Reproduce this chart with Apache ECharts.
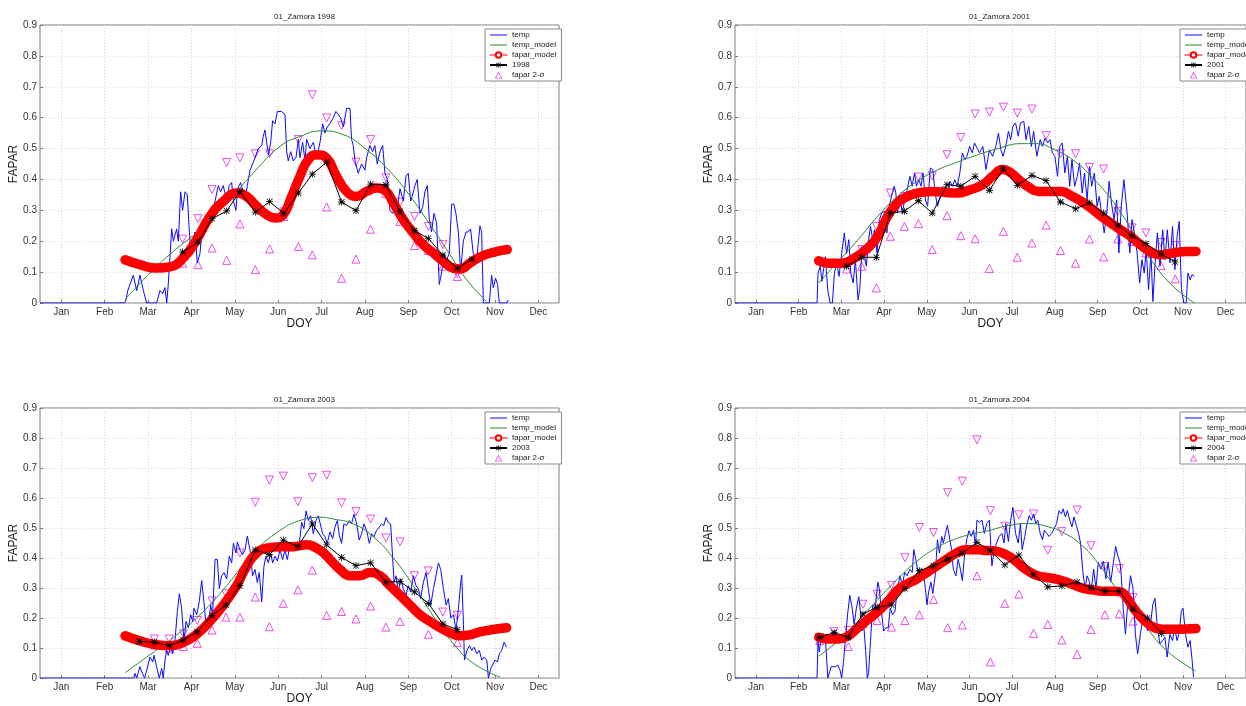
<!DOCTYPE html>
<html>
<head>
<meta charset="utf-8">
<title>01_Zamora FAPAR</title>
<script src="https://cdn.jsdelivr.net/npm/echarts@6/dist/echarts.min.js"></script>
<style>
  html, body { margin: 0; padding: 0; background: #fff; }
  #chart { width: 1246px; height: 706px; }
</style>
</head>
<body>
<div id="chart"></div>
<script>
// x axis: day of year, ticks at mid-month
const monthTicks = [15, 45.5, 76, 106.5, 137, 167.5, 198, 228.5, 259, 289.5, 320, 350.5];
const monthNames = ['Jan', 'Feb', 'Mar', 'Apr', 'May', 'Jun', 'Jul', 'Aug', 'Sep', 'Oct', 'Nov', 'Dec'];
const years = ['1998', '2001', '2003', '2004'];

// ---- 1998 ----
const temp1998 = [[0,0],[59.5,0],[60.5,0.01],[61.7,0.04],[65.6,0.09],[68,0.04],[70.3,0.09],[72.7,0.04],[75,0],[82,0],[84.4,0.04],[86.3,0.03],[87.9,0.05],[89.1,0],[90.2,0.06],[92.6,0.24],[93.8,0.2],[96.1,0.24],[97.3,0.2],[98.9,0.36],[100.3,0.3],[102,0.36],[103.6,0.35],[104.8,0.25],[106,0.16],[107.8,0.18],[109,0.23],[110.6,0.13],[112.5,0.16],[113.9,0.23],[115.3,0.27],[116.7,0.23],[118.4,0.28],[120.7,0.29],[123.1,0.33],[125.4,0.38],[127,0.36],[128.9,0.38],[131.3,0.33],[133.1,0.38],[134.8,0.39],[136,0.33],[137.8,0.3],[139,0.37],[141.1,0.39],[144.2,0.33],[145.8,0.38],[147.7,0.43],[149.5,0.45],[151.2,0.47],[153.5,0.5],[155.9,0.51],[157,0.54],[158.2,0.56],[159.4,0.52],[160.8,0.48],[162.2,0.52],[163.6,0.59],[165.3,0.58],[166.9,0.62],[169.9,0.62],[172.3,0.61],[173.5,0.49],[174.6,0.46],[176.3,0.49],[178.1,0.46],[180,0.47],[181.7,0.53],[182.8,0.47],[184.7,0.52],[186.4,0.46],[187.5,0.53],[189.9,0.5],[192.2,0.52],[194.6,0.47],[196.9,0.52],[198.8,0.58],[200.4,0.55],[202,0.57],[203.9,0.58],[206.3,0.6],[208.1,0.62],[209.8,0.61],[211.4,0.6],[213.3,0.57],[215.6,0.63],[218,0.63],[219.1,0.53],[220.3,0.51],[221.5,0.46],[223.8,0.42],[226.2,0.45],[228.5,0.43],[229.7,0.47],[232,0.51],[233.9,0.49],[235.5,0.51],[237.2,0.45],[239.1,0.49],[241,0.51],[242.6,0.42],[244.3,0.4],[246.1,0.3],[248,0.29],[249.6,0.31],[251.3,0.31],[253.2,0.37],[255.5,0.33],[257.4,0.41],[259,0.42],[260.7,0.33],[262.6,0.36],[263.7,0.38],[265.3,0.4],[267.2,0.29],[269.1,0.31],[270.7,0.36],[272.4,0.38],[273.8,0.27],[275.4,0.23],[277.1,0.29],[278.9,0.26],[280.8,0.06],[282.5,0.1],[284.1,0.16],[286,0.14],[287.8,0.16],[289.5,0.32],[291.1,0.32],[292.5,0.29],[294.2,0.23],[295.8,0.1],[297.7,0.2],[299.6,0.23],[301.2,0.23],[302.8,0.24],[304.7,0.16],[307.1,0.14],[309.4,0.25],[310.6,0.23],[311.8,0],[316,0],[317.6,0.09],[318.8,0.05],[320.4,0.08],[321.8,0.06],[323,0],[328.2,0],[329.3,0.01]];
const tempModel1998 = [[59.8,0.011],[77.4,0.097],[93.8,0.167],[112.5,0.237],[131.3,0.324],[150,0.421],[168.8,0.507],[182.8,0.539],[198,0.557],[213.3,0.545],[229.7,0.496],[243.8,0.437],[257.9,0.361],[271.9,0.27],[286,0.173],[300,0.076],[314.1,0.005]];
const faparModel1998 = [[59.8,0.14],[70.3,0.124],[82,0.113],[91.4,0.117],[100.8,0.146],[110.2,0.205],[119.5,0.28],[128.9,0.329],[138.3,0.356],[145.3,0.345],[152.4,0.313],[159.4,0.286],[165.3,0.275],[171.1,0.286],[177,0.345],[182.8,0.41],[188.7,0.464],[194.6,0.48],[201.6,0.469],[208.6,0.41],[215.6,0.361],[222.7,0.345],[229.7,0.361],[236.7,0.372],[242.6,0.365],[248.5,0.324],[255.5,0.27],[262.5,0.227],[269.5,0.189],[276.6,0.162],[283.6,0.135],[290.6,0.113],[295.3,0.11],[302.3,0.129],[309.4,0.149],[318.8,0.164],[328.6,0.173]];
const obsDoy1998 = [100.3,111.1,121,131.3,140.6,151.4,161.5,171.4,181.7,191.5,201.6,212.1,222.2,232.5,243.3,253.2,263.3,273.1,283.3,293.5,303.8];
const obs1998 = [0.165,0.197,0.273,0.298,0.361,0.294,0.328,0.29,0.356,0.417,0.456,0.327,0.299,0.385,0.382,0.296,0.234,0.209,0.155,0.112,0.142];
const upper1998 = [0.207,0.273,0.367,0.455,0.47,0.483,0.483,0.295,0.529,0.674,0.599,0.574,0.456,0.529,0.405,0.326,0.28,0.248,0.189,0.095,null];
const lower1998 = [0.129,0.124,0.178,0.138,0.256,0.108,0.175,0.28,0.183,0.156,0.311,0.08,0.142,0.239,0.355,0.264,0.186,0.17,0.119,0.086,null];

// ---- 2001 ----
const temp2001 = [[0,0],[58.6,0],[59.3,0.097],[60.9,0.119],[62.1,0.07],[64.5,0.15],[66.3,0.04],[68,0],[69.6,0],[71,0.097],[72.7,0.13],[74.3,0.086],[76.2,0.16],[78.1,0.227],[79.7,0.16],[81.3,0.205],[82.7,0.097],[84.4,0.065],[86,0.14],[87.9,0.01],[89.1,0.043],[90.7,0.183],[92.1,0.162],[93.8,0.119],[95.4,0.205],[96.8,0.248],[98.4,0.205],[99.6,0.237],[101.5,0.162],[103.1,0.27],[104.8,0.291],[106.7,0.297],[108.5,0.227],[110.2,0.313],[111.8,0.345],[113.7,0.378],[114.9,0.356],[116,0.291],[117.9,0.345],[119.5,0.291],[121.2,0.334],[123,0.367],[124.9,0.41],[126.6,0.378],[128.2,0.421],[129.6,0.378],[131.3,0.399],[132.9,0.378],[134.3,0.421],[136,0.334],[137.6,0.313],[139.5,0.437],[141.3,0.432],[143,0.356],[144.6,0.313],[146.5,0.345],[148.4,0.378],[150,0.345],[151.6,0.345],[153.5,0.394],[155.4,0.378],[157,0.399],[158.7,0.378],[160.6,0.421],[162.4,0.486],[164.1,0.464],[165.7,0.475],[167.6,0.507],[169.5,0.486],[171.1,0.518],[172.3,0.518],[174.6,0.486],[177,0.507],[179.3,0.432],[181.7,0.496],[184,0.475],[186.3,0.507],[188.2,0.55],[189.9,0.496],[191.5,0.475],[193.4,0.507],[195.3,0.556],[196.9,0.529],[198.5,0.572],[200.4,0.583],[202.3,0.54],[203.9,0.583],[206.3,0.588],[207.9,0.529],[209.8,0.572],[211.7,0.507],[213.3,0.556],[215.6,0.475],[218,0.529],[219.6,0.507],[221.5,0.534],[223.4,0.518],[225,0.529],[226.7,0.486],[228.5,0.475],[230.4,0.41],[232,0.507],[233.7,0.518],[235.6,0.421],[237.4,0.475],[239.1,0.378],[240.7,0.464],[242.6,0.378],[244.5,0.41],[246.1,0.453],[248,0.356],[249.6,0.421],[251.5,0.334],[253.2,0.442],[254.8,0.378],[256.7,0.421],[258.6,0.313],[260.2,0.345],[261.8,0.291],[263.7,0.227],[265.6,0.291],[267.2,0.394],[268.9,0.324],[270.7,0.27],[272.6,0.334],[274.2,0.162],[275.9,0.313],[277.8,0.399],[279,0.399],[280.1,0.291],[282,0.162],[283.6,0.27],[285.3,0.227],[287.2,0.162],[289,0.065],[290.7,0.14],[292.3,0.097],[293.7,0.173],[295.4,0.043],[297.1,0.162],[298.5,0.005],[300.1,0.13],[301.7,0.227],[303.6,0.119],[305.5,0.237],[307.1,0.14],[308.8,0.237],[310.7,0.13],[312.5,0.248],[314.2,0.108],[315.8,0.216],[317.3,0.264],[318.9,0.043],[320.6,0],[322.3,0],[323.5,0.097],[325.1,0.075],[326.5,0.092],[328.2,0.086]];
const tempModel2001 = [[59.8,0.065],[73.8,0.135],[87.9,0.205],[102,0.281],[116,0.345],[130.1,0.394],[144.2,0.43],[158.2,0.455],[172.3,0.478],[186.3,0.498],[205.1,0.516],[214.5,0.516],[228.5,0.496],[242.6,0.459],[256.7,0.399],[270.7,0.324],[284.8,0.227],[298.8,0.129],[312.9,0.054],[328.2,0]];
const faparModel2001 = [[59.8,0.137],[66.8,0.129],[76.2,0.129],[85.6,0.146],[94.9,0.178],[102,0.216],[109,0.281],[116,0.324],[123,0.345],[132.4,0.358],[141.8,0.361],[151.2,0.358],[158.2,0.356],[167.6,0.366],[177,0.383],[184,0.41],[191,0.432],[195.7,0.426],[202.7,0.399],[209.8,0.375],[216.8,0.361],[223.8,0.361],[233.2,0.361],[240.2,0.347],[247.3,0.329],[254.3,0.307],[261.4,0.281],[268.4,0.259],[275.4,0.237],[282.4,0.216],[289.5,0.189],[296.5,0.167],[303.5,0.156],[312.9,0.162],[322.3,0.167],[329.3,0.167]];
const obsDoy2001 = [79.7,90.5,101,110.9,121,131,140.9,151.4,161.3,171.5,181.7,191.7,201.6,212.1,222.2,232.5,243.3,253.2,263.3,273.5,283.6,293.5,304.3,314.4];
const obs2001 = [0.119,0.148,0.148,0.291,0.297,0.331,0.291,0.383,0.378,0.41,0.365,0.434,0.381,0.413,0.396,0.327,0.305,0.324,0.291,0.251,0.218,0.192,0.159,0.133];
const upper2001 = [0.13,0.173,0.248,0.356,0.345,0.408,0.412,0.48,0.536,0.612,0.618,0.634,0.615,0.628,0.542,0.483,0.483,0.439,0.434,0.297,0.243,0.227,0.196,0.186];
const lower2001 = [0.11,0.119,0.049,0.216,0.248,0.257,0.173,0.283,0.218,0.208,0.112,0.232,0.148,0.194,0.252,0.17,0.129,0.207,0.149,0.207,0.199,0.162,0.121,0.078];

// ---- 2003 ----
const temp2003 = [[0,0],[66,0],[66.8,0.016],[68,0],[70.3,0.038],[72,0.016],[73.6,0],[77.4,0.07],[79.3,0.054],[80.2,0.076],[82,0.038],[83.9,0],[85.6,0.032],[86.7,0],[87.9,0.06],[89.1,0.092],[90.2,0.076],[91.9,0.103],[93.3,0.081],[94.9,0.124],[96.6,0.222],[98,0.281],[99.6,0.233],[101.3,0.124],[102.7,0.189],[104.3,0.168],[106,0.211],[107.4,0.189],[108.3,0.233],[110.2,0.211],[112,0.254],[113.7,0.325],[115.3,0.254],[116.7,0.179],[118.4,0.168],[120,0.243],[121.4,0.211],[123.1,0.395],[124.7,0.395],[126.1,0.298],[127.7,0.341],[129.4,0.352],[131.3,0.33],[133.1,0.406],[134.8,0.384],[136,0.449],[137.8,0.417],[138.8,0.454],[140.6,0.427],[142.5,0.411],[144.2,0.427],[145.8,0.473],[147.7,0.427],[149.5,0.341],[151.2,0.362],[152.8,0.319],[154.2,0.352],[155.9,0.254],[157.5,0.373],[158.9,0.406],[160.6,0.384],[162.2,0.417],[163.6,0.384],[165.3,0.406],[166.9,0.39],[168.8,0.427],[170.6,0.395],[172.3,0.427],[173.9,0.395],[175.3,0.427],[177,0.427],[178.6,0.449],[180.5,0.427],[182.4,0.449],[184,0.519],[185.6,0.498],[187.1,0.557],[188.7,0.525],[190.3,0.541],[192.2,0.481],[194.1,0.525],[195.7,0.541],[196.9,0.541],[198.8,0.481],[200.4,0.471],[202,0.449],[203.9,0.487],[205.8,0.465],[207.4,0.503],[209.1,0.525],[210.5,0.476],[212.1,0.449],[213.7,0.514],[215.6,0.508],[217.5,0.525],[219.1,0.514],[220.8,0.546],[222.7,0.514],[224.5,0.46],[226.2,0.481],[227.8,0.514],[229.7,0.492],[231.6,0.449],[233.2,0.481],[234.8,0.471],[236.7,0.492],[238.6,0.503],[240.2,0.514],[241.8,0.508],[243.3,0.535],[244.9,0.519],[246.6,0.514],[248,0.514],[249,0.319],[250.4,0.341],[252,0.287],[253.7,0.33],[255.5,0.298],[257.4,0.276],[259,0.308],[260.7,0.287],[262.6,0.341],[264.4,0.308],[266.1,0.298],[267.7,0.265],[269.6,0.319],[271.5,0.352],[273.1,0.298],[274.8,0.243],[276.7,0.298],[278.5,0.341],[280.2,0.384],[281.8,0.362],[283.7,0.298],[285.6,0.243],[287.2,0.265],[288.9,0.2],[290.8,0.211],[292.6,0.157],[294.3,0.233],[295.9,0.319],[296.6,0.343],[297.8,0.179],[298.5,0.06],[300.2,0.092],[302,0.108],[303.7,0.092],[305.3,0.103],[307.2,0.081],[309,0.092],[310.7,0.06],[312.3,0.07],[314.2,0.06],[315.4,0],[317,0.032],[318.4,0.038],[320,0.06],[321.7,0.054],[323.1,0.081],[324.7,0.092],[326.4,0.119],[328.2,0.103]];
const tempModel2003 = [[59.8,0.018],[75,0.07],[93.8,0.135],[112.5,0.211],[131.3,0.308],[150,0.417],[168.8,0.492],[182.8,0.525],[196.9,0.536],[206.3,0.53],[220.3,0.514],[234.4,0.471],[248.5,0.4],[262.6,0.308],[276.7,0.206],[290.8,0.114],[304.9,0.049],[323.7,0.003]];
const faparModel2003 = [[59.8,0.141],[70.3,0.124],[82,0.111],[91.4,0.108],[100.8,0.119],[110.2,0.146],[119.5,0.189],[128.9,0.243],[138.3,0.308],[145.3,0.373],[152.4,0.417],[159.4,0.433],[168.8,0.438],[178.1,0.438],[187.5,0.444],[194.6,0.433],[200,0.415],[204,0.395],[211,0.362],[218,0.341],[225,0.341],[232,0.352],[239.1,0.341],[246.1,0.308],[253.2,0.276],[260.2,0.243],[267.2,0.211],[274.2,0.189],[281.3,0.168],[288.3,0.151],[295.3,0.141],[302.3,0.144],[309.4,0.154],[318.8,0.162],[328.2,0.168]];
const obsDoy2003 = [69.9,80.4,90.9,100.8,110.6,121,130.8,140.6,151.4,161.3,171.1,181.4,191.5,201.6,212.1,222.2,232.5,243.3,253.2,263.3,273.1,283.3,293.5];
const obs2003 = [0.122,0.12,0.108,0.127,0.154,0.209,0.243,0.308,0.427,0.411,0.46,0.438,0.514,0.444,0.402,0.375,0.384,0.319,0.322,0.287,0.249,0.181,0.161];
const upper2003 = [null,0.13,0.13,0.148,0.192,0.257,0.281,0.417,0.586,0.66,0.673,0.588,0.668,0.676,0.584,0.555,0.53,0.467,0.454,0.341,0.357,0.22,0.209];
const lower2003 = [null,0.11,0.1,0.105,0.116,0.16,0.203,0.203,0.27,0.171,0.249,0.294,0.36,0.209,0.222,0.197,0.24,0.17,0.189,0.237,0.146,0.17,0.118];

// ---- 2004 ----
const temp2004 = [[0,0],[58.6,0],[59.3,0.125],[60.2,0.087],[61.6,0.136],[63.3,0.125],[64.5,0.136],[66.3,0],[67.4,0],[68.7,0.038],[69.6,0.043],[71.5,0.038],[73.4,0.043],[75,0.027],[76.2,0],[77.4,0.049],[79,0.136],[80.4,0.211],[82,0.276],[83.7,0.233],[85.1,0.179],[86.7,0.233],[88.4,0.271],[89.8,0.211],[90.7,0.157],[92.1,0.168],[93.3,0.092],[94.5,0],[95.4,0.016],[96.8,0.125],[98.4,0.244],[100.1,0.233],[102,0.32],[103.1,0.298],[104.3,0.233],[106.2,0.157],[107.8,0.168],[109.5,0.168],[110.9,0.233],[112.5,0.211],[114.2,0.222],[116,0.298],[117.9,0.341],[119.5,0.309],[121.2,0.352],[123,0.341],[124.9,0.363],[126.6,0.352],[127.7,0.428],[129.6,0.385],[131.3,0.331],[132.9,0.341],[134.3,0.363],[136,0.298],[137.1,0.244],[138.3,0.287],[139.9,0.32],[141.3,0.282],[143,0.341],[144.6,0.461],[146,0.417],[147.7,0.472],[148.8,0.45],[150.3,0.482],[151.7,0.509],[153.1,0.504],[154.7,0.428],[155.9,0.363],[157.8,0.341],[159.4,0.396],[161,0.363],[162.4,0.325],[164.1,0.417],[165.7,0.466],[167.1,0.491],[168.8,0.472],[170.4,0.493],[171.8,0.439],[172.8,0.526],[174.6,0.52],[176.5,0.526],[178.1,0.482],[179.8,0.515],[181.7,0.526],[183.5,0.374],[185.2,0.428],[186.8,0.45],[188.7,0.472],[190.6,0.482],[192.2,0.45],[193.4,0.515],[195.3,0.455],[196.9,0.526],[198.5,0.569],[200.4,0.482],[202.3,0.45],[203.9,0.515],[205.1,0.428],[207,0.472],[208.6,0.515],[210.3,0.542],[211.7,0.526],[213.3,0.547],[214.9,0.515],[216.3,0.526],[218,0.482],[219.6,0.461],[221,0.493],[222.7,0.482],[224.3,0.472],[226.2,0.482],[228.1,0.499],[229.7,0.515],[231.4,0.558],[233.2,0.547],[234.4,0.564],[236,0.537],[237.4,0.558],[239.1,0.526],[240.7,0.504],[242.1,0.537],[243.8,0.509],[245.4,0.482],[246.8,0.45],[248.5,0.352],[250.1,0.298],[251.5,0.341],[253.2,0.32],[254.3,0.287],[256.2,0.363],[257.8,0.298],[259.5,0.385],[261.4,0.363],[263.2,0.39],[264.9,0.331],[266.5,0.385],[268.4,0.32],[270.3,0.385],[271.9,0.439],[273.5,0.406],[275,0.385],[275.9,0.341],[277.3,0.233],[278.9,0.146],[280.6,0.255],[282.5,0.341],[284.3,0.298],[286,0.146],[287.6,0.081],[289.5,0.146],[291.4,0.2],[293,0.211],[294.6,0.157],[296.5,0.168],[298.4,0.244],[300,0.266],[301.7,0.168],[303.5,0.114],[305.4,0.125],[307.1,0.136],[308.7,0.07],[310.6,0.146],[312.5,0.125],[314.1,0.168],[315.7,0.125],[317.1,0.146],[318.8,0.222],[320,0.233],[321.8,0.146],[323.5,0.103],[325.1,0.125],[326.5,0.06],[327.5,0.003]];
const tempModel2004 = [[59.8,0.073],[73.8,0.125],[87.9,0.19],[102,0.262],[116,0.33],[130.1,0.39],[144.2,0.435],[158.2,0.465],[172.3,0.483],[181.7,0.492],[195.7,0.509],[209.8,0.515],[223.8,0.504],[235.6,0.482],[247.3,0.444],[259,0.385],[270.7,0.309],[282.4,0.244],[294.2,0.168],[308.2,0.092],[328.9,0.024]];
const faparModel2004 = [[59.8,0.136],[66.8,0.13],[73.8,0.13],[80.9,0.141],[87.9,0.168],[94.9,0.195],[102,0.222],[109,0.255],[116,0.293],[123,0.314],[130.1,0.331],[137.1,0.352],[144.2,0.374],[151.2,0.396],[158.2,0.417],[165.3,0.428],[172.3,0.428],[177,0.426],[186.3,0.423],[193.4,0.412],[200.4,0.39],[207.4,0.363],[214.5,0.344],[221.5,0.336],[228.5,0.331],[235.6,0.322],[242.6,0.309],[249.6,0.298],[256.7,0.293],[263.7,0.289],[270.7,0.289],[275.4,0.287],[280.1,0.266],[284.8,0.233],[291.8,0.195],[298.8,0.17],[305.9,0.163],[315.3,0.163],[329.3,0.165]];
const obsDoy2004 = [60.5,70.8,80.9,91.4,101.5,111.8,121.4,131.7,141.8,151.9,162.3,172.8,182.4,192.7,202.8,213.3,223.4,233.5,244.3,254.3,264.2,274.5,284.3,294.6,304.7];
const obs2004 = [0.136,0.152,0.136,0.214,0.236,0.244,0.298,0.358,0.374,0.396,0.416,0.452,0.425,0.377,0.41,0.345,0.304,0.307,0.32,0.301,0.29,0.29,0.23,0.2,0.149];
const upper2004 = [0.135,0.155,0.159,0.246,0.279,0.309,0.401,0.502,0.485,0.618,0.656,0.794,0.558,0.506,0.544,0.547,0.426,0.488,0.56,0.441,0.372,0.365,0.268,null,null];
const lower2004 = [0.125,0.145,0.105,0.181,0.192,0.17,0.192,0.211,0.262,0.168,0.177,0.341,0.054,0.249,0.28,0.149,0.179,0.127,0.079,0.162,0.211,0.214,0.19,null,null];

const panels = [
  { temp: temp1998, tempModel: tempModel1998, fapar: faparModel1998, doy: obsDoy1998, obs: obs1998, upper: upper1998, lower: lower1998 },
  { temp: temp2001, tempModel: tempModel2001, fapar: faparModel2001, doy: obsDoy2001, obs: obs2001, upper: upper2001, lower: lower2001 },
  { temp: temp2003, tempModel: tempModel2003, fapar: faparModel2003, doy: obsDoy2003, obs: obs2003, upper: upper2003, lower: lower2003 },
  { temp: temp2004, tempModel: tempModel2004, fapar: faparModel2004, doy: obsDoy2004, obs: obs2004, upper: upper2004, lower: lower2004 }
];

// layout of the 2x2 figure
const boxLeft = [40, 735, 40, 735];
const boxTop = [25, 25, 408, 408];
const boxW = 519;
const boxH = 278;

const FONT = 'Liberation Sans, Arial, Helvetica, sans-serif';
const BLUE = '#0a0aff';
const GREEN = '#2a8a2a';
const RED = '#ff0000';
const MAGENTA = '#e820e8';
const ASTERISK = 'path://M4.45,0H5.55V10H4.45Z M0,4.45H10V5.55H0Z M1.3,0.5L9.5,8.7L8.7,9.5L0.5,1.3Z M8.7,0.5L9.5,1.3L1.3,9.5L0.5,8.7Z';
// legend icons: thin line (17x7 box), hollow triangle
const LINE_ICON = 'path://M0,2.9H17V4.1H0Z M0,0H0.01V7H0Z';
const TRI_ICON = 'path://M0,10L5.5,0L11,10Z M1.9,9L9.1,9L5.5,2.4Z';

const pairs = (xs, ys) => xs.map((x, k) => (ys[k] == null ? null : [x, ys[k]])).filter(Boolean);

const chart = echarts.init(document.getElementById('chart'), null, { renderer: 'canvas' });

const grid = [], xAxis = [], yAxis = [], title = [], legend = [], series = [];

panels.forEach((p, i) => {
  grid.push({
    left: boxLeft[i], top: boxTop[i], width: boxW, height: boxH,
    show: true, borderColor: '#7a7a7a', borderWidth: 1, backgroundColor: 'transparent'
  });
  xAxis.push({
    type: 'value', gridIndex: i, min: 0, max: 365,
    name: 'DOY', nameLocation: 'middle', nameGap: 12,
    nameTextStyle: { fontFamily: FONT, fontSize: 12, color: '#222' },
    axisLine: { show: false },
    axisTick: { show: true, inside: true, length: 3, customValues: monthTicks, lineStyle: { color: '#7a7a7a' } },
    axisLabel: {
      customValues: monthTicks, margin: 4, fontFamily: FONT, fontSize: 10, color: '#333',
      formatter: v => monthNames[Math.round((v - 15) / 30.5)]
    },
    splitLine: { show: true, lineStyle: { color: '#d6d6d6', type: [1, 2] } }
  });
  yAxis.push({
    type: 'value', gridIndex: i, min: 0, max: 0.9, interval: 0.1,
    name: 'FAPAR', nameLocation: 'middle', nameGap: 12,
    nameTextStyle: { fontFamily: FONT, fontSize: 12, color: '#222' },
    axisLine: { show: false },
    axisTick: { show: true, inside: true, length: 3, lineStyle: { color: '#7a7a7a' } },
    axisLabel: { margin: 3, fontFamily: FONT, fontSize: 10, color: '#333' },
    splitLine: { show: true, lineStyle: { color: '#d6d6d6', type: [1, 2] } }
  });
  title.push({
    text: '01_Zamora ' + years[i],
    left: boxLeft[i] + boxW / 2, top: boxTop[i] - 17, textAlign: 'center',
    textStyle: { fontFamily: FONT, fontSize: 8, fontWeight: 'normal', color: '#222' }
  });
  legend.push({
    orient: 'vertical', left: boxLeft[i] + 445, top: boxTop[i] + 4,
    selectedMode: false,
    itemWidth: 17, itemHeight: 7, itemGap: 2,
    padding: [2, 5, 2, 4],
    backgroundColor: '#fff', borderColor: '#8a8a8a', borderWidth: 1,
    textStyle: { fontFamily: FONT, fontSize: 8, color: '#222' },
    data: [
      { name: 'temp', icon: LINE_ICON, itemStyle: { color: BLUE } },
      { name: 'temp_model', icon: LINE_ICON, itemStyle: { color: GREEN } },
      { name: 'fapar_model', lineStyle: { width: 1.2 } },
      { name: years[i] },
      { name: 'fapar 2-σ', icon: TRI_ICON, itemStyle: { color: MAGENTA, borderWidth: 0 } }
    ]
  });

  series.push({
    name: 'temp', type: 'line', xAxisIndex: i, yAxisIndex: i,
    data: p.temp, showSymbol: false, symbol: 'none',
    lineStyle: { color: BLUE, width: 1 }, itemStyle: { color: BLUE }
  });
  series.push({
    name: 'temp_model', type: 'line', xAxisIndex: i, yAxisIndex: i,
    data: p.tempModel, smooth: true, showSymbol: false, symbol: 'none',
    lineStyle: { color: GREEN, width: 1 }, itemStyle: { color: GREEN }
  });
  series.push({
    name: 'fapar_model', type: 'line', xAxisIndex: i, yAxisIndex: i,
    data: p.fapar, smooth: true, showSymbol: false, symbol: 'emptyCircle', symbolSize: 7,
    lineStyle: { color: RED, width: 9.5, cap: 'round', join: 'round' },
    itemStyle: { color: RED, borderWidth: 1.2 }
  });
  series.push({
    name: years[i], type: 'line', xAxisIndex: i, yAxisIndex: i,
    data: pairs(p.doy, p.obs), symbol: ASTERISK, symbolSize: 7, showAllSymbol: true,
    lineStyle: { color: '#000', width: 1 }, itemStyle: { color: '#000' }
  });
  series.push({
    name: 'fapar 2-σ', type: 'scatter', xAxisIndex: i, yAxisIndex: i,
    data: pairs(p.doy, p.lower), symbol: 'triangle', symbolSize: 8,
    itemStyle: { color: 'rgba(255,255,255,0)', borderColor: MAGENTA, borderWidth: 1 }
  });
  series.push({
    name: 'fapar 2-σ upper', type: 'scatter', xAxisIndex: i, yAxisIndex: i,
    data: pairs(p.doy, p.upper), symbol: 'triangle', symbolRotate: 180, symbolSize: 8,
    itemStyle: { color: 'rgba(255,255,255,0)', borderColor: MAGENTA, borderWidth: 1 }
  });
});

chart.setOption({
  animation: false,
  backgroundColor: '#fff',
  textStyle: { fontFamily: FONT },
  title, legend, grid, xAxis, yAxis, series
});
</script>
</body>
</html>
